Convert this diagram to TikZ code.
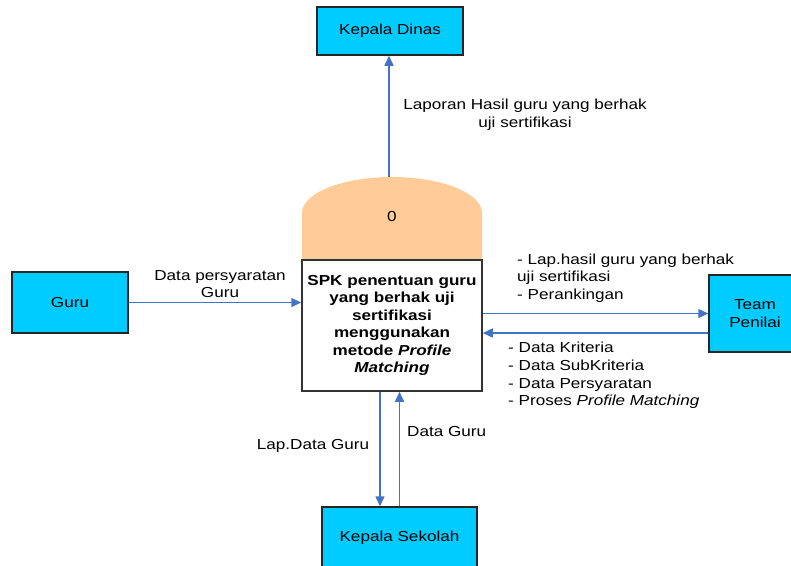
\documentclass[tikz,border=0pt]{standalone}
\usepackage{fontspec}
\setmainfont[FakeStretch=1.18]{Liberation Sans}
\usepackage{tikz}
\usetikzlibrary{arrows.meta,positioning,shapes}
\definecolor{entcyan}{RGB}{0,204,255}
\definecolor{procorange}{RGB}{255,204,153}
\definecolor{flowblue}{RGB}{68,114,196}

\begin{document}
\begin{tikzpicture}[x=1pt,y=-1pt,
		entity/.style={draw=black!85,line width=1.5pt,fill=entcyan,inner sep=0pt,align=center},
		flow/.style={flowblue,line width=1.5pt,-{Triangle[length=10pt,width=9pt]}},
		lbl/.style={inner sep=0pt,align=left},
		font=\fontsize{14.5}{17.7}\selectfont]
		\useasboundingbox (0,0) rectangle (791,565);
		\clip (0,0) rectangle (791,565);
		\fill[white] (0,0) rectangle (791,565);
		% process
		\fill[procorange] (302,260) -- (302,213) arc[start angle=180, end angle=360, x radius=90, y radius=36] -- (482,260) -- cycle;
		\node[draw=black!80,line width=1.5pt,fill=white,minimum width=180pt,minimum height=131pt,inner sep=0pt,align=center,font=\bfseries\fontsize{14.5}{17.5}\selectfont] (proc) at (392,325.5) {SPK penentuan guru\\yang berhak uji\\sertifikasi\\menggunakan\\metode \textit{Profile}\\\textit{Matching}};
		\node (num) at (392,217) {0};
		\coordinate (ptop) at (389,177);
		% entities
		\node[entity,minimum width=146pt,minimum height=48pt] (dinas) at (390,31) {Kepala Dinas};
		\node[entity,minimum width=116pt,minimum height=61pt] (guru) at (70,302.5) {Guru};
		\node[entity,minimum width=92pt,minimum height=77pt] (penilai) at (755,313.5) {Team\\Penilai};
		\node[entity,minimum width=155pt,minimum height=61pt] (sekolah) at (399.5,537.5) {Kepala Sekolah};
		\coordinate (pback) at ([yshift=-19.5pt]penilai.west);
		\coordinate (pdown) at ([xshift=-12pt]proc.south);
		% flows
		\draw[flow] (ptop) -- (ptop |- dinas.south);
		\draw[flow] (guru.east) -- (proc.west |- guru.east);
		\draw[flow] (proc.east |- penilai.west) -- (penilai.west);
		\draw[flow] (pback) -- (proc.east |- pback);
		\draw[flow] (pdown) -- (pdown |- sekolah.north);
		\draw[flow] (sekolah.north) -- (sekolah.north |- proc.south);
		% labels
		\node[lbl,align=center] (lblaporan) at (525,115) {Laporan Hasil guru yang berhak\\uji sertifikasi};
		\node[lbl,align=center] (lbsyarat) at (220,284) {Data persyaratan\\Guru};
		\node[lbl,anchor=west] (lbhasil) at (517,278) {- Lap.hasil guru yang berhak\\uji sertifikasi\\- Perankingan};
		\node[lbl,anchor=west] (lbkrit) at (508,375.5) {- Data Kriteria\\- Data SubKriteria\\- Data Persyaratan\\- Proses \textit{Profile Matching}};
		\node[lbl] (lblapguru) at (313,446) {Lap.Data Guru};
		\node[lbl,anchor=west] (lbdataguru) at (407,431) {Data Guru};
	\end{tikzpicture}
\end{document}
